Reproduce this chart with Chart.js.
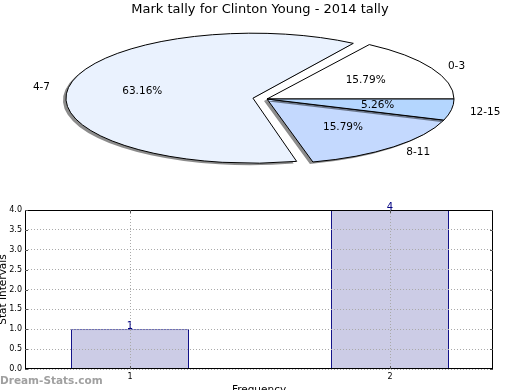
<!DOCTYPE html>
<html><head><meta charset="utf-8">
<script src="https://cdn.jsdelivr.net/npm/chart.js@4.4.1/dist/chart.umd.min.js"></script>
<style>
html,body{margin:0;padding:0;background:#fff;width:520px;height:390px;overflow:hidden;}
#pieWrap{position:absolute;left:0;top:0;width:520px;height:190px;}
#barWrap{position:absolute;left:0;top:190px;width:520px;height:200px;}
#wm{position:absolute;left:0;top:374px;font:bold 10.5px "DejaVu Sans";line-height:12px;color:#a0a0a0;}
</style></head><body>
<div id="pieWrap"><canvas id="pie" width="520" height="190"></canvas></div>
<div id="barWrap"><canvas id="bar" width="520" height="200"></canvas></div>
<div id="wm">Dream-Stats.com</div>
<script>
// ---- data ----
const pieTitle = 'Mark tally for Clinton Young - 2014 tally';
const pieLabels = ['0-3', '4-7', '8-11', '12-15'];
const pieValues = [3, 12, 3, 1];
const pieColors = ['#ffffff', '#eaf2fe', '#c4d9fe', '#b4d6fe'];

const barCategories = [1, 2];
const barValues = [1, 4];
const yTickValues = [0, 0.5, 1, 1.5, 2, 2.5, 3, 3.5, 4];
const xAxisTitle = 'Frequency';
const yAxisTitle = 'Stat Intervals';

// ---- layout/style constants ----
const PIE = {cx: 267, cy: 99, r: 187, ry: 65, explodeIndex: 1, explode: 57, sdx: -3, sdy: 2};
const X_RANGE = {min: 0.596, max: 2.396};
const FONT = 'DejaVu Sans';
Chart.defaults.font.family = FONT;
Chart.defaults.color = '#000';

const pieTotal = pieValues.reduce((a, b) => a + b, 0);

const ellipsePlugin = {
  id: 'ellipse',
  afterDatasetsUpdate(chart) {
    const meta = chart.getDatasetMeta(0);
    meta.data.forEach((arc, i) => {
      const off = i === PIE.explodeIndex ? PIE.explode : 0;
      if (off && arc.circumference >= Math.PI) arc.outerRadius -= off / 4;
    });
  },
  beforeDatasetsDraw(chart) {
    const ctx = chart.ctx;
    const arc = chart.getDatasetMeta(0).data[0];
    const base = ctx.getTransform();
    ctx.save();
    ctx.translate(PIE.cx, PIE.cy);
    ctx.scale(1, -PIE.ry / PIE.r);
    ctx.translate(-arc.x, -arc.y);
    ctx.shadowColor = 'rgba(0,0,0,0.45)';
    ctx.shadowOffsetX = PIE.sdx;
    ctx.shadowOffsetY = PIE.sdy;
    ctx.shadowBlur = 0;
    const orig = CanvasRenderingContext2D.prototype.stroke;
    ctx.stroke = function () {
      this.save();
      this.setTransform(base);
      this.shadowColor = 'rgba(0,0,0,0)';
      orig.apply(this, arguments);
      this.restore();
    };
  },
  afterDatasetsDraw(chart) {
    const ctx = chart.ctx;
    delete ctx.stroke;
    ctx.restore();
  },
  afterDraw(chart) {
    const ctx = chart.ctx;
    const meta = chart.getDatasetMeta(0);
    const k = PIE.ry / PIE.r;
    ctx.save();
    ctx.font = '10.5px "' + FONT + '"';
    ctx.fillStyle = '#000';
    ctx.textBaseline = 'middle';
    meta.data.forEach((arc, i) => {
      const mid = (arc.startAngle + arc.endAngle) / 2;
      const d = (i === PIE.explodeIndex ? PIE.explode : 0) / 4;
      const ox = arc.x + Math.cos(mid) * d, oy = arc.y + Math.sin(mid) * d;
      const at = f => [PIE.cx + (ox + Math.cos(mid) * PIE.r * f - arc.x),
                       PIE.cy - k * (oy + Math.sin(mid) * PIE.r * f - arc.y)];
      const [lx, ly] = at(1.1);
      ctx.textAlign = Math.cos(mid) > 0 ? 'left' : 'right';
      ctx.fillText(pieLabels[i], lx, ly + 1);
      const [px, py] = at(0.6);
      ctx.textAlign = 'center';
      ctx.fillText((pieValues[i] / pieTotal * 100).toFixed(2) + '%', px, py);
    });
    ctx.restore();
  }
};

new Chart(document.getElementById('pie'), {
  type: 'pie',
  data: {
    labels: pieLabels,
    datasets: [{
      data: pieValues,
      backgroundColor: pieColors,
      borderColor: '#000',
      borderWidth: 1,
      offset: pieValues.map((v, i) => i === PIE.explodeIndex ? PIE.explode : 0),
      clip: false
    }]
  },
  options: {
    responsive: false, animation: false, devicePixelRatio: 1,
    rotation: 90,
    radius: PIE.r,
    plugins: {
      legend: {display: false},
      tooltip: {enabled: false},
      title: {display: true, text: pieTitle, color: '#000',
              font: {size: 13, weight: 'normal', family: FONT},
              padding: {top: 2, bottom: 0}}
    }
  },
  plugins: [ellipsePlugin]
});

const framePlugin = {
  id: 'frame',
  afterDraw(chart) {
    const ctx = chart.ctx, a = chart.chartArea;
    const xs = chart.scales.x, ys = chart.scales.y;
    ctx.save();
    ctx.strokeStyle = '#000';
    ctx.lineWidth = 1;
    ctx.strokeRect(a.left + 0.5, a.top + 0.5, a.right - a.left - 1, a.bottom - a.top - 1);
    ctx.beginPath();
    ys.ticks.forEach(t => {
      const y = Math.round(ys.getPixelForValue(t.value)) + 0.5;
      ctx.moveTo(a.left, y); ctx.lineTo(a.left + 3, y);
      ctx.moveTo(a.right, y); ctx.lineTo(a.right - 3, y);
    });
    xs.ticks.forEach(t => {
      const x = Math.round(xs.getPixelForValue(t.value)) + 0.5;
      ctx.moveTo(x, a.bottom); ctx.lineTo(x, a.bottom - 3);
      ctx.moveTo(x, a.top); ctx.lineTo(x, a.top + 3);
    });
    ctx.strokeStyle = '#555';
    ctx.stroke();
    // value labels
    const meta = chart.getDatasetMeta(0);
    ctx.fillStyle = '#000080';
    ctx.font = '10px "' + FONT + '"';
    ctx.textAlign = 'center';
    ctx.textBaseline = 'alphabetic';
    meta.data.forEach((bar, i) => {
      ctx.fillText(String(barValues[i]), bar.x, bar.y);
    });
    // axis titles
    ctx.fillStyle = '#000';
    ctx.font = '10.5px "' + FONT + '"';
    ctx.textBaseline = 'top';
    ctx.fillText(xAxisTitle, (a.left + a.right) / 2, 195);
    ctx.save();
    ctx.translate(5.5, (a.top + a.bottom) / 2);
    ctx.rotate(-Math.PI / 2);
    ctx.textBaseline = 'alphabetic';
    ctx.fillText(yAxisTitle, 0, 0);
    ctx.restore();
    ctx.restore();
  }
};

new Chart(document.getElementById('bar'), {
  type: 'bar',
  data: {
    datasets: [{
      data: barCategories.map((c, i) => ({x: c, y: barValues[i]})),
      backgroundColor: '#ccccE6',
      borderColor: '#000080',
      borderWidth: 1,
      barPercentage: 118 / 260,
      categoryPercentage: 1
    }]
  },
  options: {
    responsive: false, animation: false, devicePixelRatio: 1,
    layout: {padding: {left: 0, right: 27, top: 20, bottom: 0}},
    plugins: {legend: {display: false}, tooltip: {enabled: false}},
    scales: {
      x: {
        type: 'linear', min: X_RANGE.min, max: X_RANGE.max, offset: false,
        afterBuildTicks: s => { s.ticks = barCategories.map(v => ({value: v})); },
        ticks: {font: {size: 8}, color: '#000', padding: 3, callback: v => String(v)},
        grid: {offset: false, drawTicks: false, color: '#aaaaaa', z: 1},
        border: {display: false, dash: [1, 2]},
        afterFit: s => { s.height = 21; }
      },
      y: {
        min: 0, max: 4,
        afterBuildTicks: s => { s.ticks = yTickValues.map(v => ({value: v})); },
        ticks: {font: {size: 8}, color: '#000', padding: 3, callback: v => Number(v).toFixed(1)},
        grid: {drawTicks: false, color: '#aaaaaa', z: 1},
        border: {display: false, dash: [1, 2]},
        afterFit: s => { s.width = 25; }
      }
    }
  },
  plugins: [framePlugin]
});
</script>
</body></html>
